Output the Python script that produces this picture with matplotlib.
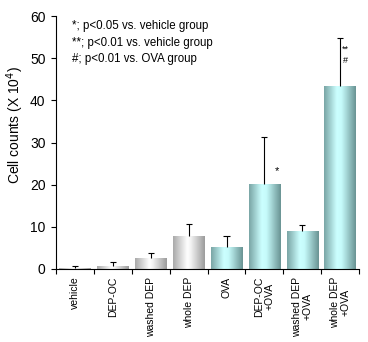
import numpy as np
import matplotlib
matplotlib.use("Agg")
import matplotlib.pyplot as plt
from matplotlib.colors import LinearSegmentedColormap

plt.rcParams['font.family'] = ['Liberation Sans', 'DejaVu Sans']

# Datos
grupos = ['vehicle', 'DEP-OC', 'washed DEP', 'whole DEP', 'OVA',
          'DEP-OC\n+OVA', 'washed DEP\n+OVA', 'whole DEP\n+OVA']
medias = [0.2, 0.7, 2.6, 7.8, 5.2, 20.1, 9.1, 43.4]
errores = [0.5, 0.9, 1.1, 2.9, 2.6, 11.2, 1.3, 11.5]
con_ova = [False, False, False, False, True, True, True, True]
marcas = ['', '', '', '', '', '*', '', '**\n#']

notas = ['*; p<0.05 vs. vehicle group',
         '**; p<0.01 vs. vehicle group',
         '#; p<0.01 vs. OVA group']

# Degradados de las barras
cmap_gris = LinearSegmentedColormap.from_list(
    'gris', [(0, '#aaaaaa'), (0.45, '#ffffff'), (0.55, '#f4f4f4'), (1, '#9c9c9c')])
cmap_cian = LinearSegmentedColormap.from_list(
    'cian', [(0, '#7aa6a6'), (0.4, '#ccffff'), (0.55, '#c6fbfb'), (1, '#6a9494')])

fig = plt.figure(figsize=(3.68, 3.42), dpi=100)
ax = fig.add_axes([0.152, 0.2135, 0.824, 0.7395])

x = np.arange(len(grupos)) + 0.5
ancho = 0.83
grad = np.linspace(0, 1, 64).reshape(1, -1)

barras = ax.bar(x, medias, width=ancho, color='none', edgecolor='none', zorder=2)
for b, ova in zip(barras, con_ova):
    x0, y0 = b.get_x(), b.get_y()
    im = ax.imshow(grad, cmap=cmap_cian if ova else cmap_gris, aspect='auto',
                   extent=[x0, x0 + b.get_width(), y0, y0 + b.get_height()],
                   interpolation='bicubic', zorder=2)
    im.set_clip_path(b)

# Barras de error solo hacia arriba (linea + tope)
tope = 0.08
arriba = np.array(medias) + np.array(errores)
ax.vlines(x, medias, arriba, color='black', linewidth=0.8, zorder=3)
ax.hlines(arriba, x - tope, x + tope, color='black', linewidth=0.8, zorder=3)

# Marcas de significancia
for xi, m, e, s in zip(x, medias, errores, marcas):
    if s == '*':
        ax.text(xi + 0.33, 22.0, s, fontsize=8, ha='center', va='bottom')
    elif s:
        ax.text(xi + 0.13, 48.5, s, fontsize=6.5, ha='center', va='bottom',
                linespacing=1.2)

ax.set_xlim(0, len(grupos))
ax.set_ylim(0, 60)
ax.set_autoscale_on(False)
ax.set_yticks(np.arange(0, 61, 10))
ax.set_xticks(np.arange(0, len(grupos) + 1))
ax.set_xticklabels([])
ax.tick_params(axis='both', direction='out', length=3.5, width=0.8, labelsize=10)
ax.tick_params(axis='y', pad=4)
for lado in ['top', 'right']:
    ax.spines[lado].set_visible(False)
for lado in ['left', 'bottom']:
    ax.spines[lado].set_linewidth(0.8)

for xi, g in zip(x, grupos):
    ax.text(xi, -1.8, g, rotation=90, ha='center', va='top', fontsize=7.5,
            multialignment='center', linespacing=1.1)

# Titulo del eje y
fig.text(0.04, 0.635, 'Cell counts (X 10$^4$)', rotation=90,
         ha='center', va='center', fontsize=10)

for i, n in enumerate(notas):
    ax.text(0.42, 57.6 - i * 3.9, n, fontsize=8.3, ha='left', va='center')

fig.savefig('out.png', dpi=100)
